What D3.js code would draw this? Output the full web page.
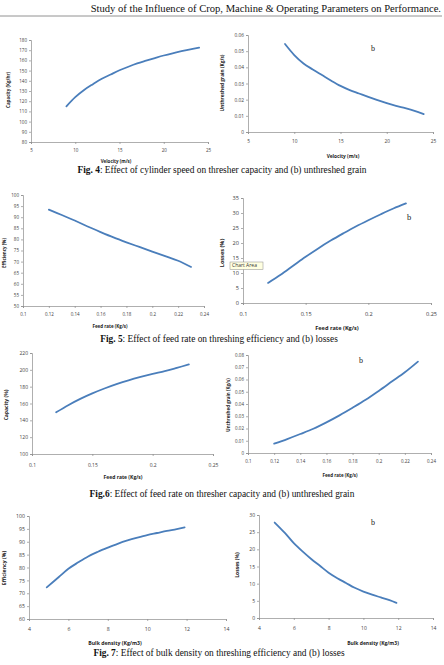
<!DOCTYPE html>
<html>
<head>
<meta charset="utf-8">
<script src="https://cdn.jsdelivr.net/npm/d3@7"></script>
<style>
  body { margin: 0; background: #fff; }
  svg { display: block; }
  .tick-label { font-family: "Open Sans", "Liberation Sans", sans-serif; fill: #404040; }
  .axis-title { font-family: "Open Sans", "Liberation Sans", sans-serif; font-weight: bold; fill: #222; }
  .caption { font-family: "Liberation Serif", "DejaVu Serif", serif; font-size: 9.4px; fill: #111; }
  .tag { font-family: "Liberation Serif", serif; fill: #222; }
</style>
</head>
<body>
<div id="page"></div>
<script>
const width = 444;
const height = 665;
const lineColor = "#4a7ebb";

// Fig. 4 - cylinder speed
const fig4Velocity = [9, 10, 11, 12, 13, 14, 15, 16, 17, 18, 19, 20, 21, 22, 23, 24];
const fig4Capacity = [115, 124, 131, 136.7, 142, 146.2, 150.3, 153.8, 157, 159.7, 162.3, 164.8, 167, 169, 170.9, 172.6];
const fig4Unthreshed = [0.0544, 0.0476, 0.0424, 0.0387, 0.0352, 0.0317, 0.0285, 0.0259, 0.0238, 0.0217, 0.0197, 0.0178, 0.0161, 0.0147, 0.0131, 0.0111];

// Fig. 5 - feed rate vs efficiency / losses
const fig5Feed = [0.12, 0.13, 0.14, 0.15, 0.16, 0.17, 0.18, 0.19, 0.2, 0.21, 0.22, 0.23];
const fig5Efficiency = [93.4, 91, 88.5, 85.8, 83.3, 80.9, 78.7, 76.6, 74.5, 72.5, 70.4, 67.6];
const fig5Losses = [6.7, 9.4, 12.4, 15.4, 18.2, 20.8, 23.2, 25.5, 27.6, 29.6, 31.5, 33.2];

// Fig. 6 - feed rate vs capacity / unthreshed grain
const fig6Feed = [0.12, 0.13, 0.14, 0.15, 0.16, 0.17, 0.18, 0.19, 0.2, 0.21, 0.22, 0.23];
const fig6Capacity = [149.5, 158, 165.5, 172, 177.8, 183, 187.6, 191.6, 195.2, 198.4, 202.3, 206.4];
const fig6Unthreshed = [0.0076, 0.0114, 0.0155, 0.0198, 0.025, 0.0307, 0.0369, 0.0434, 0.0507, 0.0583, 0.0659, 0.0746];

// Fig. 7 - bulk density
const fig7Density = [4.9, 5.5, 6, 6.5, 7, 7.5, 8, 8.5, 9, 9.5, 10, 10.5, 11, 11.5, 11.9];
const fig7Efficiency = [72.3, 76.2, 79.5, 82, 84.3, 86.1, 87.7, 89.2, 90.5, 91.6, 92.6, 93.4, 94.2, 94.9, 95.6];
const fig7Losses = [27.8, 24.7, 21.8, 19.4, 17.2, 15.2, 13.2, 11.6, 10.2, 8.8, 7.7, 6.8, 6.0, 5.2, 4.4];

// tick values
const ticksVelocity = [5, 10, 15, 20, 25];
const ticksCapacity4 = [80, 90, 100, 110, 120, 130, 140, 150, 160, 170, 180];
const ticksUnthreshed4 = [0, 0.01, 0.02, 0.03, 0.04, 0.05, 0.06];
const ticksFeedFine = [0.1, 0.12, 0.14, 0.16, 0.18, 0.2, 0.22, 0.24];
const ticksFeedCoarse = [0.1, 0.15, 0.2, 0.25];
const ticksEfficiency5 = [50, 55, 60, 65, 70, 75, 80, 85, 90, 95, 100];
const ticksLosses5 = [0, 5, 10, 15, 20, 25, 30, 35];
const ticksCapacity6 = [100, 120, 140, 160, 180, 200, 220];
const ticksUnthreshed6 = [0, 0.01, 0.02, 0.03, 0.04, 0.05, 0.06, 0.07, 0.08];
const ticksDensity = [4, 6, 8, 10, 12, 14];
const ticksEfficiency7 = [60, 65, 70, 75, 80, 85, 90, 95, 100];
const ticksLosses7 = [0, 5, 10, 15, 20, 25, 30];

const captions = [
    ["Fig. 4", ": Effect of cylinder speed on thresher capacity and (b) unthreshed grain"],
    ["Fig. 5", ": Effect of feed rate on threshing efficiency and (b) losses"],
    ["Fig.6", ": Effect of feed rate on thresher capacity and (b) unthreshed grain"],
    ["Fig. 7", ": Effect of bulk density on threshing efficiency and (b) losses"]
];

const svg = d3.select("#page").append("svg")
    .attr("width", width)
    .attr("height", height);

// running header
svg.append("text")
    .attr("class", "caption")
    .attr("x", 441).attr("y", 12)
    .attr("text-anchor", "end")
    .style("font-size", "10.6px")
    .text("Study of the Influence of Crop, Machine & Operating Parameters on Performance.");
svg.append("line")
    .attr("x1", 0).attr("x2", 442)
    .attr("y1", 16).attr("y2", 16)
    .attr("stroke", "#777").attr("stroke-width", 0.8);

function drawPanel(p) {
    const x = d3.scaleLinear().domain(p.xDomain).range([p.x0, p.x1]);
    const y = d3.scaleLinear().domain(p.yDomain).range([p.yB, p.yT]);
    const g = svg.append("g");
    const fs = p.fs || 5;

    const xAxis = g.append("g")
        .attr("transform", `translate(0,${p.yB})`)
        .call(d3.axisBottom(x).tickValues(p.xTicks).tickSize(2).tickFormat(d => String(d)));
    const yAxis = g.append("g")
        .attr("transform", `translate(${p.x0},0)`)
        .call(d3.axisLeft(y).tickValues(p.yTicks).tickSize(2).tickFormat(d => String(d)));

    [xAxis, yAxis].forEach(a => {
        a.select(".domain").attr("stroke", "#8c8c8c").attr("stroke-width", 0.7);
        a.selectAll(".tick line").attr("stroke", "#8c8c8c").attr("stroke-width", 0.7);
        a.selectAll(".tick text")
            .attr("class", "tick-label")
            .style("font-size", fs + "px")
            .attr("font-family", null);
    });
    xAxis.selectAll(".tick text").attr("y", p.xLabelGap || 6);
    yAxis.selectAll(".tick text").attr("x", -4);

    g.append("path")
        .datum(p.xs.map((v, i) => [v, p.ys[i]]))
        .attr("fill", "none")
        .attr("stroke", lineColor)
        .attr("stroke-width", 1.8)
        .attr("stroke-linecap", "round")
        .attr("d", d3.line().x(d => x(d[0])).y(d => y(d[1])).curve(d3.curveCatmullRom));

    g.append("text")
        .attr("class", "axis-title")
        .attr("x", p.xTitle[0]).attr("y", p.xTitle[1])
        .attr("text-anchor", "middle")
        .attr("dominant-baseline", "middle")
        .style("font-size", (p.titleFs || fs) + "px")
        .text(p.xLabel);

    g.append("text")
        .attr("class", "axis-title")
        .attr("transform", `translate(${p.yTitle[0]},${p.yTitle[1]}) rotate(-90)`)
        .attr("text-anchor", "middle")
        .attr("dominant-baseline", "middle")
        .style("font-size", (p.titleFs || fs) + "px")
        .text(p.yLabel);

    if (p.tag) {
        g.append("text")
            .attr("class", "tag")
            .attr("x", p.tag[0]).attr("y", p.tag[1])
            .attr("text-anchor", "middle")
            .attr("dominant-baseline", "middle")
            .style("font-size", (p.tagFs || 8) + "px")
            .text("b");
    }
    return g;
}

const panels = [
    { x0: 31, x1: 208, yT: 40, yB: 142, xDomain: [5, 25], yDomain: [80, 180],
      xTicks: ticksVelocity, yTicks: ticksCapacity4, xs: fig4Velocity, ys: fig4Capacity,
      xLabel: "Velocity (m/s)", yLabel: "Capacity (Kg/hr)", xTitle: [116, 162], yTitle: [9, 90], fs: 4.5, xLabelGap: 7 },
    { x0: 248, x1: 433, yT: 35, yB: 132, xDomain: [5, 25], yDomain: [0, 0.06],
      xTicks: ticksVelocity, yTicks: ticksUnthreshed4, xs: fig4Velocity, ys: fig4Unthreshed,
      xLabel: "Velocity (m/s)", yLabel: "Unthreshed grain (Kg/s)", xTitle: [343, 157], yTitle: [223, 83],
      fs: 4.8, xLabelGap: 8, tag: [373, 49] },
    { x0: 23, x1: 204, yT: 195, yB: 306, xDomain: [0.1, 0.24], yDomain: [50, 100],
      xTicks: ticksFeedFine, yTicks: ticksEfficiency5, xs: fig5Feed, ys: fig5Efficiency,
      xLabel: "Feed rate (Kg/s)", yLabel: "Efficiency (%)", xTitle: [110, 327], yTitle: [5, 253], fs: 4.5, xLabelGap: 7 },
    { x0: 243, x1: 431, yT: 198, yB: 303, xDomain: [0.1, 0.25], yDomain: [0, 35],
      xTicks: ticksFeedCoarse, yTicks: ticksLosses5, xs: fig5Feed, ys: fig5Losses,
      xLabel: "Feed rate (Kg/s)", yLabel: "Losses (%)", xTitle: [337, 328], yTitle: [222, 253],
      fs: 5.6, titleFs: 5.6, xLabelGap: 9, tag: [409, 218], tagFs: 8.5 },
    { x0: 32, x1: 213, yT: 353, yB: 454, xDomain: [0.1, 0.25], yDomain: [100, 220],
      xTicks: ticksFeedCoarse, yTicks: ticksCapacity6, xs: fig6Feed, ys: fig6Capacity,
      xLabel: "Feed rate (Kg/s)", yLabel: "Capacity (%)", xTitle: [123, 478], yTitle: [7, 405], fs: 5, xLabelGap: 9 },
    { x0: 248, x1: 431, yT: 355, yB: 453, xDomain: [0.1, 0.24], yDomain: [0, 0.08],
      xTicks: ticksFeedFine, yTicks: ticksUnthreshed6, xs: fig6Feed, ys: fig6Unthreshed,
      xLabel: "Feed rate (Kg/s)", yLabel: "Unthreshed grain (Kg/s)", xTitle: [340, 476], yTitle: [229, 405],
      fs: 4.5, xLabelGap: 7, tag: [361, 361] },
    { x0: 29, x1: 226, yT: 516, yB: 619, xDomain: [4, 14], yDomain: [60, 100],
      xTicks: ticksDensity, yTicks: ticksEfficiency7, xs: fig7Density, ys: fig7Efficiency,
      xLabel: "Bulk density (Kg/m3)", yLabel: "Efficiency (%)", xTitle: [115, 644], yTitle: [5, 568], fs: 5.2, xLabelGap: 8 },
    { x0: 259, x1: 433, yT: 515, yB: 618, xDomain: [4, 14], yDomain: [0, 30],
      xTicks: ticksDensity, yTicks: ticksLosses7, xs: fig7Density, ys: fig7Losses,
      xLabel: "Bulk density (Kg/m3)", yLabel: "Losses (%)", xTitle: [373, 644], yTitle: [238, 565],
      fs: 5, xLabelGap: 8, tag: [373, 523] }
];

panels.forEach(drawPanel);

// stray Excel "Chart Area" tooltip captured in the Fig. 5b screenshot
const tip = svg.append("g").attr("transform", "translate(230,262)");
tip.append("rect")
    .attr("width", 33).attr("height", 7.5)
    .attr("fill", "#ffffe1").attr("stroke", "#8a8a8a").attr("stroke-width", 0.5);
tip.append("text")
    .attr("x", 2).attr("y", 4)
    .attr("dominant-baseline", "middle")
    .style("font-family", "Open Sans, sans-serif")
    .style("font-size", "5px").style("fill", "#333")
    .text("Chart Area");

// figure captions
const captionY = [173, 342, 497, 656];
const captionX = [222, 219, 222, 219];
captions.forEach((c, i) => {
    const t = svg.append("text")
        .attr("class", "caption")
        .attr("x", captionX[i]).attr("y", captionY[i])
        .attr("text-anchor", "middle");
    t.append("tspan").style("font-weight", "bold").text(c[0]);
    t.append("tspan").text(c[1]);
});
</script>
</body>
</html>
